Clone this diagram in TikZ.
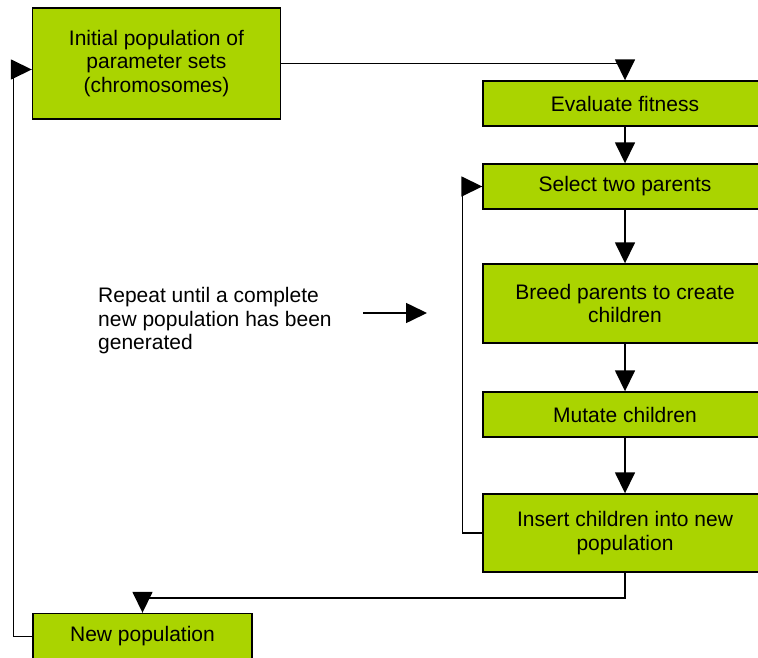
\documentclass[tikz,border=0pt]{standalone}
\usepackage{fontspec}
\setmainfont{Liberation Sans}
\usetikzlibrary{arrows.meta}
\definecolor{boxgreen}{RGB}{170,212,0}
\tikzset{
  stepbox/.style={draw=black, line width=1.4pt, fill=boxgreen, align=center, inner sep=0pt},
  flow/.style={line width=1.6pt, -{Triangle[length=21pt,width=20pt]}}
}
\begin{document}
\begin{tikzpicture}[x=1pt,y=-1pt,font=\fontsize{21}{23.5}\selectfont]
             \useasboundingbox (0,0) rectangle (758,658);
             \clip (0,0) rectangle (758,658);

             \node[stepbox, minimum width=248pt, minimum height=111pt] (init) at (156.5, 63.5) {Initial population of\\parameter sets\\(chromosomes)};
             \node[stepbox, minimum width=284pt, minimum height=45pt] (eval) at (625, 103.5) {Evaluate fitness};
             \node[stepbox, minimum width=284pt, minimum height=45pt] (sel) at (625, 186.5) {Select two parents};
             \node[stepbox, minimum width=284pt, minimum height=79pt] (breed) at (625, 303.5) {Breed parents to create\\children};
             \node[stepbox, minimum width=284pt, minimum height=45pt] (mut) at (625, 414.5) {Mutate children};
             \node[stepbox, minimum width=284pt, minimum height=78pt] (ins) at (625, 533) {Insert children into new\\population};
             \node[stepbox, minimum width=219pt, minimum height=46pt] (newpop) at (142.5, 636.5) {New population};

             \node[anchor=west, align=left, inner sep=0pt] (repeat) at (98, 321) {Repeat until a complete\\new population has been\\generated};
             \coordinate (rs) at (363, 313);
             \coordinate (re) at (427, 313);

             \draw[flow] (init.east) -| (eval.north);
             \draw[flow] (eval) -- (sel);
             \draw[flow] (sel) -- (breed);
             \draw[flow] (breed) -- (mut);
             \draw[flow] (mut) -- (ins);
             \draw[flow] (ins.west) -- ++(-20, 0) |- (sel.west);
             \draw[flow] (ins.south) -- ++(0, 25) -| (newpop.north);
             \draw[flow] (newpop.west) -- ++(-19, 0) |- ([yshift=-6pt]init.west);
             \draw[flow] (rs) -- (re);
             \end{tikzpicture}
\end{document}
